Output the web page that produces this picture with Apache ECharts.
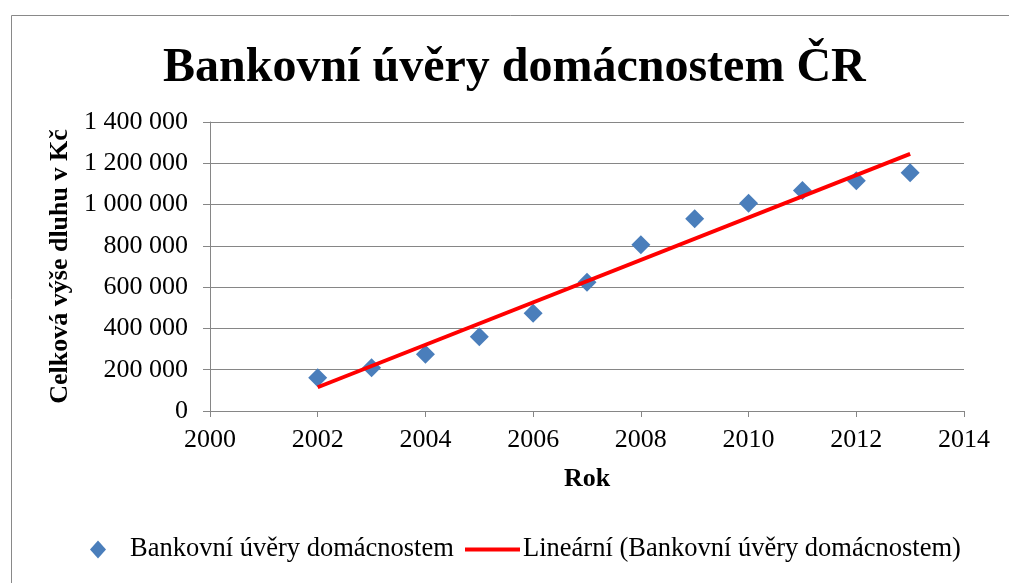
<!DOCTYPE html>
<html>
<head>
<meta charset="utf-8">
<script src="https://cdn.jsdelivr.net/npm/echarts@6/dist/echarts.min.js"></script>
<style>
html,body{margin:0;padding:0;background:#fff;}
#chart{width:1009px;height:583px;}
</style>
</head>
<body>
<div id="chart"></div>
<script>
var years = [2002, 2003, 2004, 2005, 2006, 2007, 2008, 2009, 2010, 2011, 2012, 2013];
var loans = [161500, 210000, 275000, 360000, 473500, 624000, 805000, 931000, 1007000, 1068000, 1115000, 1154000];
var trendYears = [2002, 2013];
var trendValues = [115000, 1246000];
var titleText = 'Bankovní úvěry domácnostem ČR';
var seriesName = 'Bankovní úvěry domácnostem';
var trendName = 'Lineární (Bankovní úvěry domácnostem)';
var xName = 'Rok';
var yName = 'Celková výše dluhu v Kč';

var FONT = '"Liberation Serif", "Times New Roman", serif';
var AXIS = '#868686';

function fmt(v) {
  return String(v).replace(/\B(?=(\d{3})+(?!\d))/g, ' ');
}

var chart = echarts.init(document.getElementById('chart'), null, {renderer: 'canvas'});
chart.setOption({
  animation: false,
  backgroundColor: '#fff',
  graphic: [{
    type: 'rect', left: 9, top: 13,
    shape: {x: 0.5, y: 0.5, width: 1020, height: 600},
    style: {fill: 'none', stroke: '#898989', lineWidth: 1}
  }],
  title: {
    text: titleText, left: 158, top: 40,
    textStyle: {fontFamily: FONT, fontWeight: 'bold', fontSize: 48, color: '#000'}
  },
  legend: [{
    data: [{name: seriesName, icon: 'diamond'}],
    left: 85, top: 531, itemWidth: 16, itemHeight: 18, itemGap: 0,
    textStyle: {fontFamily: FONT, fontSize: 26.5, color: '#000', padding: [0, 0, 0, 19]}
  }, {
    data: [{name: trendName, icon: 'rect'}],
    left: 460, top: 531, itemWidth: 55, itemHeight: 4,
    textStyle: {fontFamily: FONT, fontSize: 26.5, color: '#000', padding: [0, 0, 0, -2]}
  }],
  grid: {left: 210, right: 45, top: 122, bottom: 172},
  xAxis: {
    type: 'value', min: 2000, max: 2014, interval: 2,
    name: xName, nameLocation: 'middle', nameGap: 55,
    nameTextStyle: {fontFamily: FONT, fontWeight: 'bold', fontSize: 26, color: '#000'},
    axisLine: {show: true, lineStyle: {color: AXIS, width: 1}},
    axisTick: {show: true, length: 6, lineStyle: {color: AXIS}},
    axisLabel: {fontFamily: FONT, fontSize: 26, color: '#000', margin: 16,
      formatter: function (v) { return String(v); }},
    splitLine: {show: false}
  },
  yAxis: {
    type: 'value', min: 0, max: 1400000, interval: 200000,
    name: yName, nameLocation: 'middle', nameGap: 135, nameRotate: 90,
    nameTextStyle: {fontFamily: FONT, fontWeight: 'bold', fontSize: 26, color: '#000'},
    axisLine: {show: true, lineStyle: {color: AXIS, width: 1}},
    axisTick: {show: true, length: 7, lineStyle: {color: AXIS}},
    axisLabel: {fontFamily: FONT, fontSize: 26, color: '#000', margin: 22, formatter: fmt},
    splitLine: {show: true, lineStyle: {color: AXIS, width: 1}}
  },
  series: [{
    name: seriesName, type: 'scatter', symbol: 'diamond', symbolSize: [19, 19],
    itemStyle: {color: '#4a7ebb', opacity: 1},
    data: years.map(function (y, i) { return [y, loans[i]]; }),
    z: 3
  }, {
    name: trendName, type: 'line', showSymbol: false, symbol: 'none',
    lineStyle: {color: '#ff0000', width: 4},
    itemStyle: {color: '#ff0000'},
    data: trendYears.map(function (y, i) { return [y, trendValues[i]]; }),
    z: 4
  }]
});
</script>
</body>
</html>
